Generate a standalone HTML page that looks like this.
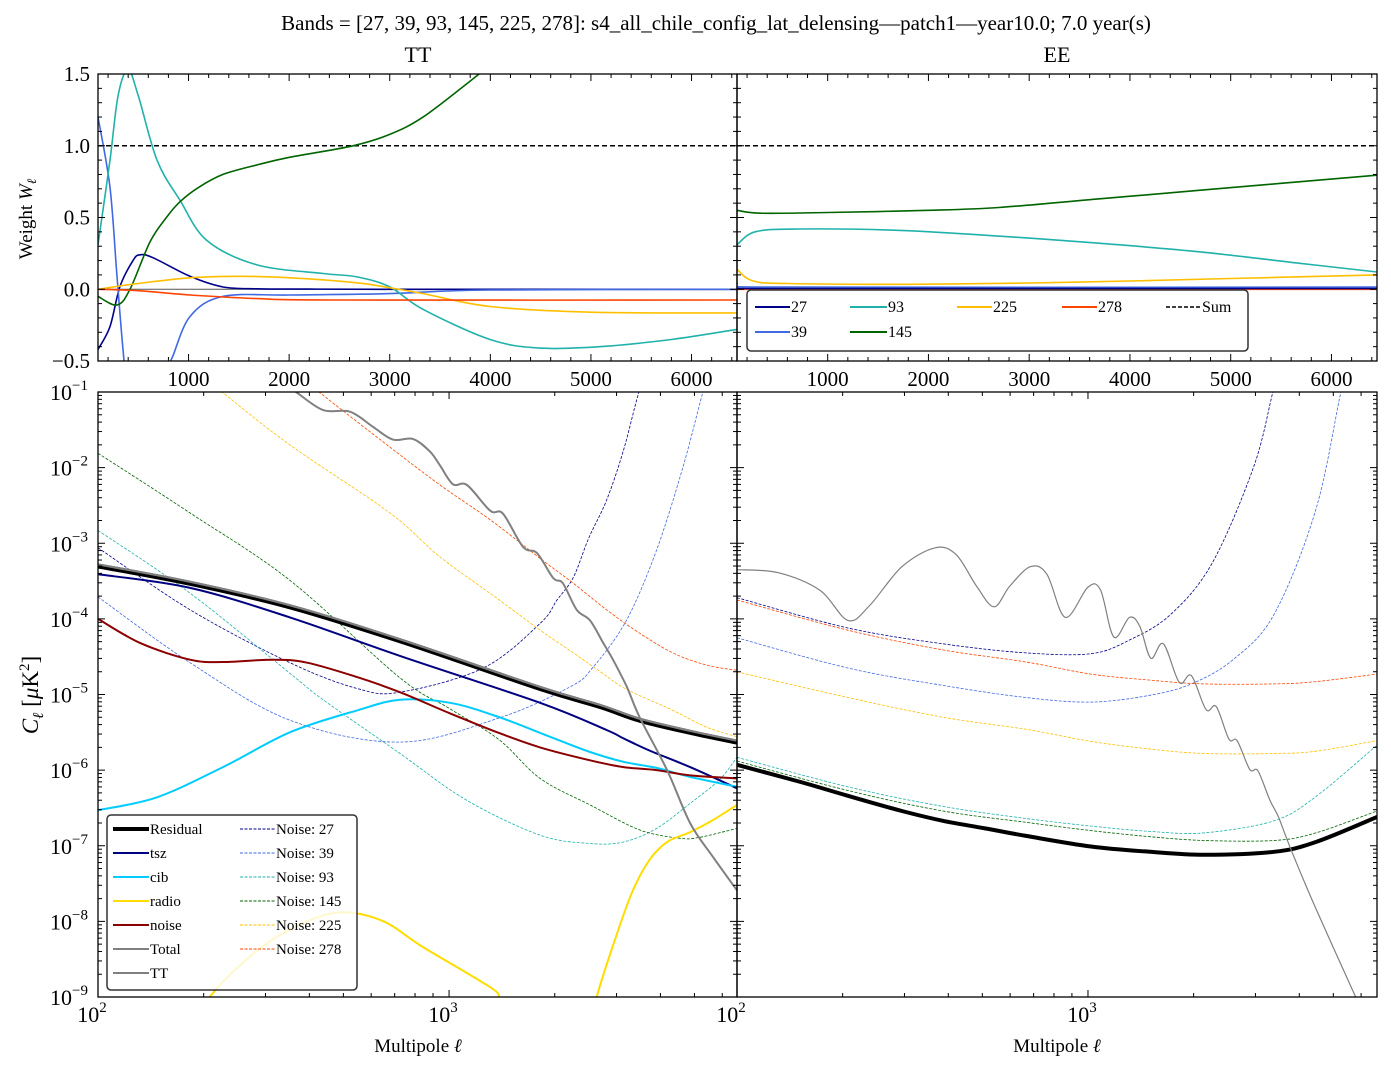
<!DOCTYPE html>
<html><head><meta charset="utf-8"><style>
html,body{margin:0;padding:0;background:#fff}
svg{display:block;font-family:"Liberation Serif","DejaVu Serif",serif}
</style></head><body>
<svg id="fig" width="1391" height="1070" viewBox="0 0 1391 1070" xmlns="http://www.w3.org/2000/svg">
<defs>
<clipPath id="cTTt"><rect x="98" y="74" width="639" height="287"/></clipPath>
<clipPath id="cEEt"><rect x="737" y="74" width="640" height="287"/></clipPath>
<clipPath id="cTTb"><rect x="98" y="392" width="639" height="605"/></clipPath>
<clipPath id="cEEb"><rect x="737" y="392" width="640" height="605"/></clipPath>
</defs>
<text x="716" y="30" font-size="21" text-anchor="middle">Bands = [27, 39, 93, 145, 225, 278]: s4_all_chile_config_lat_delensing—patch1—year10.0; 7.0 year(s)</text>
<text x="418" y="62" font-size="22" text-anchor="middle">TT</text>
<text x="1057" y="62" font-size="22" text-anchor="middle">EE</text>
<text transform="translate(32,219) rotate(-90)" font-size="19" text-anchor="middle">Weight <tspan font-style="italic">W</tspan><tspan font-size="13" font-style="italic" dy="4">ℓ</tspan></text>
<text transform="translate(38,695) rotate(-90)" font-size="23" text-anchor="middle"><tspan font-style="italic">C</tspan><tspan font-size="15" font-style="italic" dy="5">ℓ</tspan><tspan dy="-5"> [</tspan><tspan font-style="italic">μ</tspan>K<tspan font-size="15" dy="-9">2</tspan><tspan dy="9">]</tspan></text>
<text x="418" y="1052" font-size="19" text-anchor="middle">Multipole <tspan font-style="italic">ℓ</tspan></text>
<text x="1057" y="1052" font-size="19" text-anchor="middle">Multipole <tspan font-style="italic">ℓ</tspan></text>
<g id="layer"></g>
</svg>
<script>
// ---------- TOP PANELS: weights ----------
const ttW27L=[100,219,319,448,517,647,1015,1343,1681,2200,3000,4500,6452];
const ttW27=[-0.42,-0.26,0.02,0.2,0.24,0.22,0.09,0.016,0.003,0.001,0.0,0.0,0.0];
const ttW39L=[100,219,289,349,420,600,766,836,1015,1343,2009,3003,3997,6452];
const ttW39=[1.2,0.71,0.09,-0.42,-0.85,-0.95,-0.56,-0.48,-0.19,-0.05,-0.04,-0.03,-0.005,0];
const ttW93L=[100,219,300,398,500,686,915,1183,1681,2337,2675,3003,3331,3997,4494,5100,5800,6452];
const ttW93=[0.31,0.9,1.35,1.53,1.35,0.9,0.62,0.34,0.17,0.11,0.086,0.016,-0.14,-0.35,-0.41,-0.40,-0.35,-0.28];
const ttW145L=[100,289,418,617,780,915,1100,1343,1700,2009,2635,3003,3331,3798,4100];
const ttW145=[-0.05,-0.11,0,0.33,0.50,0.61,0.71,0.80,0.87,0.92,1.0,1.08,1.2,1.45,1.62];
const ttW225L=[100,500,1015,1512,2009,2675,3003,3331,3997,5000,6452];
const ttW225=[0,0.04,0.08,0.09,0.08,0.045,0.01,-0.03,-0.12,-0.16,-0.165];
const ttW278L=[100,500,1015,1681,2500,6452];
const ttW278=[0,-0.01,-0.04,-0.065,-0.075,-0.075];
const eeW27L=[100,1000,6452];
const eeW27=[0.005,0.005,0.005];
const eeW39L=[100,400,6452];
const eeW39=[0.04,0.015,0.015];
const eeW93L=[100,280,700,1720,2714,3708,4702,5696,6452];
const eeW93=[0.31,0.4,0.42,0.41,0.37,0.32,0.26,0.18,0.12];
const eeW145L=[100,330,1000,2000,2700,3700,4700,6452];
const eeW145=[0.55,0.53,0.535,0.55,0.57,0.63,0.69,0.795];
const eeW225L=[100,250,600,2000,3500,5000,6452];
const eeW225=[0.14,0.06,0.04,0.035,0.05,0.075,0.1];
const eeW278L=[100,1000,6452];
const eeW278=[0,0,0];
const sumW=1.0;
const topYTicks=[-0.5,0,0.5,1.0,1.5];
const topYTickLabels=["−0.5","0.0","0.5","1.0","1.5"];
const topXTicks=[1000,2000,3000,4000,5000,6000];

// ---------- BOTTOM PANELS: spectra (log10 of C_ell in uK^2) ----------
const ttResL=[100,183,352,725,1817,2700,3490,4860,6610];
const ttResLog10=[-3.30,-3.53,-3.84,-4.29,-4.92,-5.16,-5.34,-5.50,-5.63];
const ttTotLog10=[-3.28,-3.51,-3.82,-4.27,-4.90,-5.14,-5.32,-5.48,-5.61];
const ttTszL=[100,183,352,725,1817,2810,3140,3720,4860,6610];
const ttTszLog10=[-3.41,-3.59,-3.98,-4.49,-5.11,-5.47,-5.58,-5.74,-5.96,-6.24];
const ttCibL=[100,147,227,352,547,725,1007,1390,1940,2520,3140,3900,4860,6610];
const ttCibLog10=[-6.53,-6.36,-5.96,-5.50,-5.21,-5.07,-5.11,-5.30,-5.56,-5.76,-5.89,-5.97,-6.09,-6.22];
const ttNoiseL=[100,132,183,227,315,394,547,725,1007,1390,1817,2520,3140,3900,4860,6610];
const ttNoiseLog10=[-4.00,-4.32,-4.54,-4.57,-4.54,-4.58,-4.77,-4.97,-5.25,-5.51,-5.70,-5.87,-5.96,-6.00,-6.07,-6.11];
const ttRadioAL=[185,208,254,330,467,636,843,1310,1397,1480];
const ttRadioALog10=[-9.4,-9.0,-8.58,-8.18,-7.89,-7.98,-8.34,-8.87,-9.02,-9.2];
const ttRadioBL=[2500,2640,3010,3340,3720,4180,4860,5650,6610];
const ttRadioBLog10=[-9.5,-8.98,-8.16,-7.59,-7.19,-6.95,-6.82,-6.66,-6.46];
const ttCmbL=[330,369,438,522,607,692,789,883,942,1026,1125,1310,1425,1625,1780,1980,2110,2310,2520,2750,2930,3210,3490,4180,4860,5650,6610];
const ttCmbLog10=[-0.85,-1.01,-1.24,-1.26,-1.46,-1.63,-1.62,-1.79,-1.97,-2.22,-2.23,-2.57,-2.61,-3.05,-3.13,-3.46,-3.53,-3.88,-4.02,-4.32,-4.54,-4.90,-5.30,-6.0,-6.70,-7.15,-7.59];
const ttN27L=[100,183,352,547,725,1252,1817,2030,2260,2500,2810,3140,3470,3800];
const ttN27Log10=[-3.06,-3.88,-4.58,-4.92,-4.97,-4.65,-4.06,-3.75,-3.45,-2.93,-2.43,-1.77,-1.01,-0.5];
const ttN39L=[100,183,352,725,1390,2210,2570,3200,3900,4640,5280,5800];
const ttN39Log10=[-3.71,-4.58,-5.34,-5.63,-5.31,-4.90,-4.64,-4.02,-3.09,-1.99,-1.01,-0.4];
const ttN93L=[100,183,352,438,725,1124,1817,2520,3140,3900,4860,5880,6610];
const ttN93Log10=[-2.83,-3.66,-4.72,-5.07,-5.78,-6.40,-6.86,-6.97,-6.95,-6.77,-6.44,-6.13,-5.83];
const ttN145L=[100,183,352,725,1007,1390,1817,2520,3490,4530,5160,6610];
const ttN145Log10=[-1.81,-2.60,-3.49,-4.78,-5.19,-5.60,-6.11,-6.46,-6.79,-6.90,-6.89,-6.77];
const ttN225L=[200,227,352,679,942,1390,1817,2260,2700,3200,4340,5400,6610];
const ttN225Log10=[-0.8,-1.01,-1.70,-2.60,-3.18,-3.75,-4.15,-4.45,-4.70,-4.93,-5.21,-5.43,-5.56];
const ttN278L=[380,429,679,942,1310,1817,2260,2810,3490,4340,5400,6610];
const ttN278Log10=[-0.8,-1.01,-1.73,-2.23,-2.69,-3.20,-3.53,-3.88,-4.19,-4.45,-4.61,-4.68];

const eeResL=[100,150,207,295,386,509,666,1020,1500,2140,3390,4460,6660];
const eeResLog10=[-5.93,-6.15,-6.34,-6.54,-6.67,-6.77,-6.87,-7.01,-7.08,-7.12,-7.08,-6.95,-6.62];
const eeNL=[100,207,386,666,1020,1500,2140,3390,4460,6660];
const eeN93Log10=[-5.83,-6.22,-6.48,-6.64,-6.74,-6.81,-6.83,-6.67,-6.35,-5.67];
const eeN145Log10=[-5.88,-6.27,-6.54,-6.69,-6.80,-6.88,-6.93,-6.93,-6.83,-6.54];
const eeN225Log10=[-4.70,-5.04,-5.30,-5.46,-5.62,-5.72,-5.78,-5.78,-5.75,-5.61];
const eeN278Log10=[-3.75,-4.15,-4.41,-4.57,-4.73,-4.81,-4.86,-4.86,-4.83,-4.73];
const eeN39L=[100,207,386,666,1020,1500,1970,2590,3390,4450,5240,5700];
const eeN39Log10=[-4.25,-4.65,-4.88,-5.04,-5.10,-5.01,-4.86,-4.54,-3.94,-2.57,-1.03,-0.3];
const eeN27L=[100,207,386,666,1020,1313,1722,2260,2960,3350,3600];
const eeN27Log10=[-3.72,-4.12,-4.33,-4.45,-4.46,-4.28,-3.94,-3.26,-2.00,-1.03,-0.4];
const eeCmbL=[100,131,172,207,238,295,367,421,482,540,598,685,764,862,1000,1086,1185,1313,1405,1510,1640,1820,1970,2170,2320,2520,2660,2890,3050,3300,3490,3780,4450,5830];
const eeCmbLog10=[-3.35,-3.39,-3.62,-4.02,-3.83,-3.31,-3.06,-3.15,-3.57,-3.84,-3.57,-3.31,-3.41,-3.98,-3.58,-3.62,-4.24,-3.98,-4.10,-4.52,-4.33,-4.84,-4.75,-5.20,-5.16,-5.59,-5.61,-5.99,-6.01,-6.40,-6.62,-7.04,-7.82,-9.03];
const logYTicks=[-9,-8,-7,-6,-5,-4,-3,-2,-1];

// ---------- scales ----------
const NS='http://www.w3.org/2000/svg';
const layer=document.getElementById('layer');
function linX(x0,x1){return l=>x0+(l-100)/(6452-100)*(x1-x0);}
const wY=w=>361-(w+0.5)/2*287;
function logX(x0,x1,lmax){return l=>x0+Math.log10(l/100)/Math.log10(lmax/100)*(x1-x0);}
const cY=lg=>997-(lg+9)/8*605;
const xTTt=linX(98,737), xEEt=linX(737,1377);
const xTTb=logX(98,737,6610), xEEb=logX(737,1377,6660);

function el(tag,attrs,parent){const e=document.createElementNS(NS,tag);for(const k in attrs)e.setAttribute(k,attrs[k]);(parent||layer).appendChild(e);return e;}
function crPath(p){let d='M'+p[0][0].toFixed(1)+','+p[0][1].toFixed(1);
 for(let i=0;i<p.length-1;i++){const p0=p[i-1]||p[i],p1=p[i],p2=p[i+1],p3=p[i+2]||p2;
  d+=' C'+(p1[0]+(p2[0]-p0[0])/6).toFixed(1)+','+(p1[1]+(p2[1]-p0[1])/6).toFixed(1)+' '+(p2[0]-(p3[0]-p1[0])/6).toFixed(1)+','+(p2[1]-(p3[1]-p1[1])/6).toFixed(1)+' '+p2[0].toFixed(1)+','+p2[1].toFixed(1);}
 return d;}
function series(g,ls,vs,fx,fy,stroke,w,name,dash){
 const pts=ls.map((l,i)=>[fx(l),fy(vs[i])]);
 const p=el('path',{d:crPath(pts),fill:'none',stroke:stroke,'stroke-width':w,'stroke-linejoin':'round'},g);
 if(dash)p.setAttribute('stroke-dasharray',dash);
 
 
 return p;}
function group(clip,name){const g=el('g',{'clip-path':'url(#'+clip+')'});
 
 
 return g;}

const C27='#00008b',C39='#4169e1',C93='#20b2aa',C145='#006400',C225='#ffbf00',C278='#ff4500';
const CTSZ='#000080',CCIB='#00ccff',CRAD='#ffdd00',CNOI='#8b0000',CGRAY='#808080';

// top TT
let g=group('cTTt','tt-weights-plot');
let zl=el('line',{x1:98,x2:737,y1:wY(0),y2:wY(0),stroke:'#555','stroke-width':1},g);


let sl=el('line',{x1:98,x2:737,y1:wY(sumW),y2:wY(sumW),stroke:'#000','stroke-width':1.5,'stroke-dasharray':'5,3'},g);


series(g,ttW27L,ttW27,xTTt,wY,C27,1.6,'tt-weight-27');
series(g,ttW39L,ttW39,xTTt,wY,C39,1.6,'tt-weight-39');
series(g,ttW93L,ttW93,xTTt,wY,C93,1.6,'tt-weight-93');
series(g,ttW145L,ttW145,xTTt,wY,C145,1.6,'tt-weight-145');
series(g,ttW225L,ttW225,xTTt,wY,C225,1.6,'tt-weight-225');
series(g,ttW278L,ttW278,xTTt,wY,C278,1.6,'tt-weight-278');
// top EE
g=group('cEEt','ee-weights-plot');
let sl2=el('line',{x1:737,x2:1377,y1:wY(sumW),y2:wY(sumW),stroke:'#000','stroke-width':1.5,'stroke-dasharray':'5,3'},g);


series(g,eeW93L,eeW93,xEEt,wY,C93,1.6,'ee-weight-93');
series(g,eeW145L,eeW145,xEEt,wY,C145,1.6,'ee-weight-145');
series(g,eeW225L,eeW225,xEEt,wY,C225,1.6,'ee-weight-225');
series(g,eeW39L,eeW39,xEEt,wY,C39,1.6,'ee-weight-39');
series(g,eeW278L,eeW278,xEEt,wY,C278,1.6,'ee-weight-278');
series(g,eeW27L,eeW27,xEEt,wY,C27,1.6,'ee-weight-27');

// bottom TT
g=group('cTTb','tt-spectra-plot');
const nd='3,1.5';
series(g,ttN27L,ttN27Log10,xTTb,cY,C27,0.8,'tt-noise-27',nd);
series(g,ttN39L,ttN39Log10,xTTb,cY,C39,0.8,'tt-noise-39',nd);
series(g,ttN93L,ttN93Log10,xTTb,cY,C93,0.8,'tt-noise-93',nd);
series(g,ttN145L,ttN145Log10,xTTb,cY,C145,0.8,'tt-noise-145',nd);
series(g,ttN225L,ttN225Log10,xTTb,cY,C225,0.8,'tt-noise-225',nd);
series(g,ttN278L,ttN278Log10,xTTb,cY,C278,0.8,'tt-noise-278',nd);
series(g,ttResL,ttResLog10,xTTb,cY,'#000',5,'tt-residual');
series(g,ttTszL,ttTszLog10,xTTb,cY,CTSZ,2,'tt-tsz');
series(g,ttCibL,ttCibLog10,xTTb,cY,CCIB,2,'tt-cib');
series(g,ttRadioAL,ttRadioALog10,xTTb,cY,CRAD,2,'tt-radio-low');
series(g,ttRadioBL,ttRadioBLog10,xTTb,cY,CRAD,2,'tt-radio-high');
series(g,ttNoiseL,ttNoiseLog10,xTTb,cY,CNOI,2,'tt-noise');
series(g,ttResL,ttTotLog10,xTTb,cY,CGRAY,2.2,'tt-total');
series(g,ttCmbL,ttCmbLog10,xTTb,cY,CGRAY,2,'tt-cmb');
// bottom EE
g=group('cEEb','ee-spectra-plot');
series(g,eeN27L,eeN27Log10,xEEb,cY,C27,0.8,'ee-noise-27',nd);
series(g,eeN39L,eeN39Log10,xEEb,cY,C39,0.8,'ee-noise-39',nd);
series(g,eeNL,eeN93Log10,xEEb,cY,C93,0.8,'ee-noise-93',nd);
series(g,eeNL,eeN145Log10,xEEb,cY,C145,0.8,'ee-noise-145',nd);
series(g,eeNL,eeN225Log10,xEEb,cY,C225,0.8,'ee-noise-225',nd);
series(g,eeNL,eeN278Log10,xEEb,cY,C278,0.8,'ee-noise-278',nd);
series(g,eeResL,eeResLog10,xEEb,cY,'#000',4,'ee-residual');
series(g,eeCmbL,eeCmbLog10,xEEb,cY,CGRAY,1.2,'ee-cmb');

// ---------- axes ----------
const ax=el('g',{stroke:'#000','stroke-width':1,fill:'none'});


function tick(x1,y1,x2,y2){el('line',{x1,y1,x2,y2},ax);}
function frame(x,y,w,h,name){const r=el('rect',{x,y,width:w,height:h,stroke:'#000','stroke-width':1.3,fill:'none'});
 
 }
function label(x,y,t,anchor,name){const e=el('text',{x,y,'font-size':21,'text-anchor':anchor||'middle'});e.textContent=t;
 
 return e;}
function powLabel(x,y,exp,anchor,name){const e=el('text',{x,y,'font-size':22,'text-anchor':anchor});
 
 
 const a=el('tspan',{},e);a.textContent='10';const b=el('tspan',{'font-size':15,dy:-10},e);b.textContent=exp;}
[[98,737,true],[737,1377,false]].forEach(([x0,x1,left],pi)=>{
 const fx=pi?xEEt:xTTt;
 for(let w=-0.5;w<=1.5001;w+=0.1){const y=wY(w);const maj=Math.abs(w*2-Math.round(w*2))<1e-6;const L=maj?7:4;
  tick(x0,y,x0+L,y);tick(x1,y,x1-L,y);}
 if(left)topYTicks.forEach((v,i)=>label(90,wY(v)+7,topYTickLabels[i],'end','top-y-tick-label'));
 for(let l=200;l<=6452;l+=200){const x=fx(l);const maj=l%1000===0;const L=maj?7:4;tick(x,361,x,361-L);tick(x,74,x,74+L);}
 topXTicks.forEach(l=>label(fx(l),386,String(l),'middle','top-x-tick-label'));
 const bx=pi?xEEb:xTTb, lmax=pi?6660:6610;
 for(let d=-9;d<=-1;d++){for(let m=1;m<10;m++){const lg=d+Math.log10(m);if(lg>-1+1e-9)break;const y=cY(lg);const L=m===1?7:4;tick(x0,y,x0+L,y);tick(x1,y,x1-L,y);}}
 if(left)logYTicks.forEach(d=>powLabel(88,cY(d)+8,'−'+(-d),'end','bottom-y-tick-label'));
 for(let dec=100;dec<=1000;dec*=10){for(let m=1;m<10;m++){const l=dec*m;if(l>lmax)break;const x=bx(l);const L=m===1?7:4;tick(x,997,x,997-L);tick(x,392,x,392+L);}}
 powLabel(bx(100)-6,1022,'2','middle','bottom-x-tick-label');
 powLabel(bx(1000)-6,1022,'3','middle','bottom-x-tick-label');
});
frame(98,74,639,287,'tt-weights-frame');frame(737,74,640,287,'ee-weights-frame');
frame(98,392,639,605,'tt-spectra-frame');frame(737,392,640,605,'ee-spectra-frame');

// ---------- legends ----------
function legend(x,y,w,h,name){const lg=el('g',{});
 
 
 el('rect',{x,y,width:w,height:h,rx:4,fill:'#fff','fill-opacity':0.8,stroke:'#333','stroke-width':1.5},lg);return lg;}
function entry(lg,x,y,len,color,w,txt,dash,fs){const e=el('g',{},lg);
 
 
 const l=el('line',{x1:x,x2:x+len,y1:y,y2:y,stroke:color,'stroke-width':w},e);if(dash)l.setAttribute('stroke-dasharray',dash);
 const t=el('text',{x:x+len+1,y:y+5,'font-size':fs},e);t.textContent=txt;}
let L1=legend(747,290,501,61,'weights-legend');
entry(L1,755,307,35,C27,2,'27',null,16);entry(L1,850,307,37,C93,2,'93',null,16);
entry(L1,957,307,35,C225,2,'225',null,16);entry(L1,1062,307,35,C278,2,'278',null,16);
entry(L1,1166,307,35,'#000',1.5,'Sum','4,2',16);
entry(L1,755,332,35,C39,2,'39',null,16);entry(L1,850,332,37,C145,2,'145',null,16);
let L2=legend(107,815,250,175,'spectra-legend');
const rows=[829,853,877,901,925,949,973];
entry(L2,113,rows[0],36,'#000',4,'Residual',null,15);
entry(L2,113,rows[1],36,CTSZ,2,'tsz',null,15);
entry(L2,113,rows[2],36,CCIB,2,'cib',null,15);
entry(L2,113,rows[3],36,CRAD,2,'radio',null,15);
entry(L2,113,rows[4],36,CNOI,2,'noise',null,15);
entry(L2,113,rows[5],36,CGRAY,2,'Total',null,15);
entry(L2,113,rows[6],36,CGRAY,2,'TT',null,15);
entry(L2,240,rows[0],35,C27,1,'Noise:  27','3,1.5',15);
entry(L2,240,rows[1],35,C39,1,'Noise:  39','3,1.5',15);
entry(L2,240,rows[2],35,C93,1,'Noise:  93','3,1.5',15);
entry(L2,240,rows[3],35,C145,1,'Noise:  145','3,1.5',15);
entry(L2,240,rows[4],35,C225,1,'Noise:  225','3,1.5',15);
entry(L2,240,rows[5],35,C278,1,'Noise:  278','3,1.5',15);
</script>
</body></html>
